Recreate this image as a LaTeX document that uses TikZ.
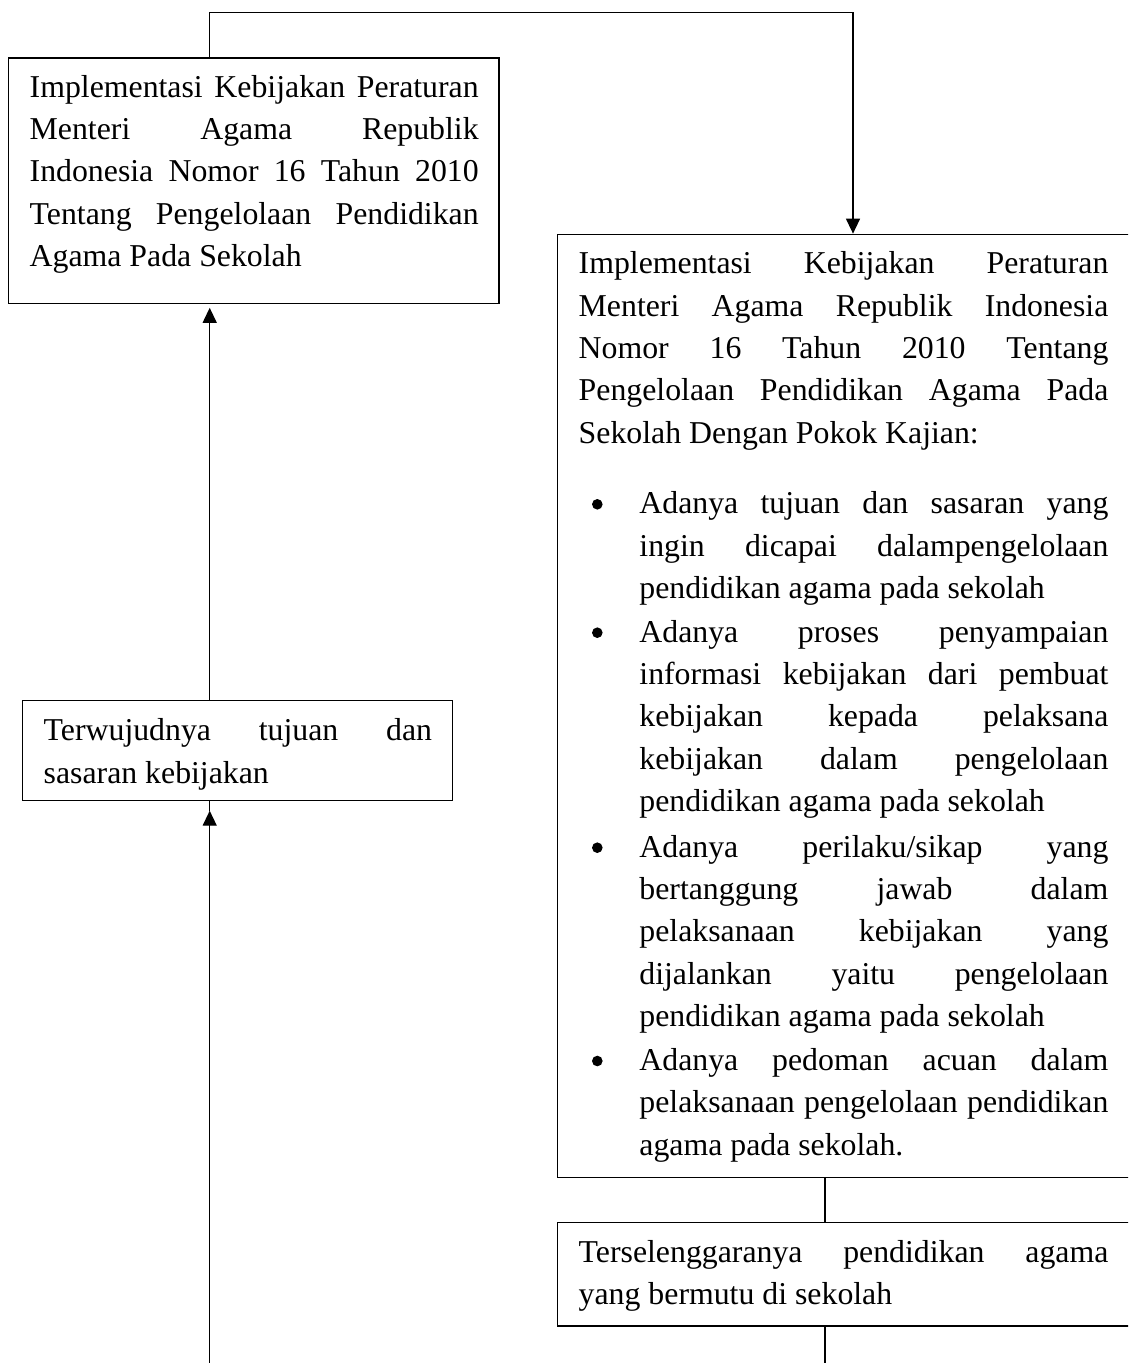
\documentclass[tikz,border=0pt]{standalone}
\usepackage{fontspec}
\setmainfont{Liberation Serif}
\usetikzlibrary{arrows.meta,fit}
\newcommand{\jl}[2]{\leavevmode\hbox to #1{\spaceskip=0pt\relax\xspaceskip=0pt\relax #2}}
\newcommand{\nl}[1]{\leavevmode\hbox{\spaceskip=0pt\relax\xspaceskip=0pt\relax #1}}
\newcommand{\fstrut}{\rule{0pt}{12pt}}
\newcommand{\wA}{224.5pt}
\newcommand{\wB}{264.85pt}
\newcommand{\wC}{234.5pt}
\newcommand{\wD}{194.2pt}
\tikzset{
  px/.style={x=0.5pt,y=-0.5pt},
  boxshape/.style={draw, line width=0.65pt, inner sep=0pt},
  txt/.style={inner sep=0pt, anchor=north west, align=left, font=\fontsize{15.9pt}{21.2pt}\selectfont},
  bul/.style={circle, fill, inner sep=0pt, minimum size=5.3pt},
  conn/.style={line width=0.65pt},
  arr/.style={conn, -{Triangle[length=7.5pt,width=7pt]}},
}
\begin{document}
\begin{tikzpicture}[px]
\useasboundingbox (0,0) rectangle (1128,1363);
\clip (0,0) rectangle (1128,1363);

% boxes
\node[boxshape, fit={(8.7,58) (499,303.3)}] (b1) {};
\node[boxshape, fit={(22.7,700.7) (452.7,800.7)}] (t) {};
\node[boxshape, fit={(557.3,234.3) (1131,1177.5)}] (b2) {};
\node[boxshape, fit={(557.3,1222.5) (1131,1326)}] (b3) {};

% texts
\node[txt, text width=\wA] (t1) at (29.3,72.7) {\jl{\wA}{\fstrut Implementasi Kebijakan Peraturan}\\
\jl{\wA}{Menteri Agama Republik}\\
\jl{\wA}{Indonesia Nomor 16 Tahun 2010}\\
\jl{\wA}{Tentang Pengelolaan Pendidikan}\\
\nl{Agama Pada Sekolah}};

\node[txt, text width=\wD] (tt) at (43.3,716.5) {\jl{\wD}{\fstrut Terwujudnya tujuan dan}\\
\nl{sasaran kebijakan}};

\node[txt, text width=\wB] (t2) at (578.3,249.3) {\jl{\wB}{\fstrut Implementasi Kebijakan Peraturan}\\
\jl{\wB}{Menteri Agama Republik Indonesia}\\
\jl{\wB}{Nomor 16 Tahun 2010 Tentang}\\
\jl{\wB}{Pengelolaan Pendidikan Agama Pada}\\
\nl{Sekolah Dengan Pokok Kajian:}};

\node[bul] (u1) at (597.3,504.3) {};
\node[txt, text width=\wC] (i1) at (639,489.3) {\jl{\wC}{\fstrut Adanya tujuan dan sasaran yang}\\
\jl{\wC}{ingin dicapai dalampengelolaan}\\
\nl{pendidikan agama pada sekolah}};

\node[bul] (u2) at (597.3,632.7) {};
\node[txt, text width=\wC] (i2) at (639,617.7) {\jl{\wC}{\fstrut Adanya proses penyampaian}\\
\jl{\wC}{informasi kebijakan dari pembuat}\\
\jl{\wC}{kebijakan kepada pelaksana}\\
\jl{\wC}{kebijakan dalam pengelolaan}\\
\nl{pendidikan agama pada sekolah}};

\node[bul] (u3) at (597.3,847.7) {};
\node[txt, text width=\wC] (i3) at (639,832.7) {\jl{\wC}{\fstrut Adanya perilaku/sikap yang}\\
\jl{\wC}{bertanggung jawab dalam}\\
\jl{\wC}{pelaksanaan kebijakan yang}\\
\jl{\wC}{dijalankan yaitu pengelolaan}\\
\nl{pendidikan agama pada sekolah}};

\node[bul] (u4) at (597.3,1061) {};
\node[txt, text width=\wC] (i4) at (639,1046) {\jl{\wC}{\fstrut Adanya pedoman acuan dalam}\\
\jl{\wC}{pelaksanaan pengelolaan pendidikan}\\
\nl{agama pada sekolah.}};

\node[txt, text width=\wB] (t3) at (578.3,1237.7) {\jl{\wB}{\fstrut Terselenggaranya pendidikan agama}\\
\nl{yang bermutu di sekolah}};

% connectors
\coordinate (c1) at (209.7,12.7);
\coordinate (c2) at (853,12.7);
\draw[arr] (b1.north -| c1) -- (c1) -- (c2) -- (c2 |- b2.north);

\coordinate (a1) at (209.7,307.8);
\draw[arr] (t.north -| c1) -- (a1);

\coordinate (e1) at (209.7,1370);
\coordinate (a2) at (209.7,810.7);
\draw[arr] (e1) -- (a2);
\draw[conn] (a2) -- (t.south -| a2);

\coordinate (c3) at (825,0);
\coordinate (e2) at (825,1370);
\draw[conn] (b2.south -| c3) -- (b3.north -| c3);
\draw[conn] (b3.south -| e2) -- (e2);
\end{tikzpicture}
\end{document}
